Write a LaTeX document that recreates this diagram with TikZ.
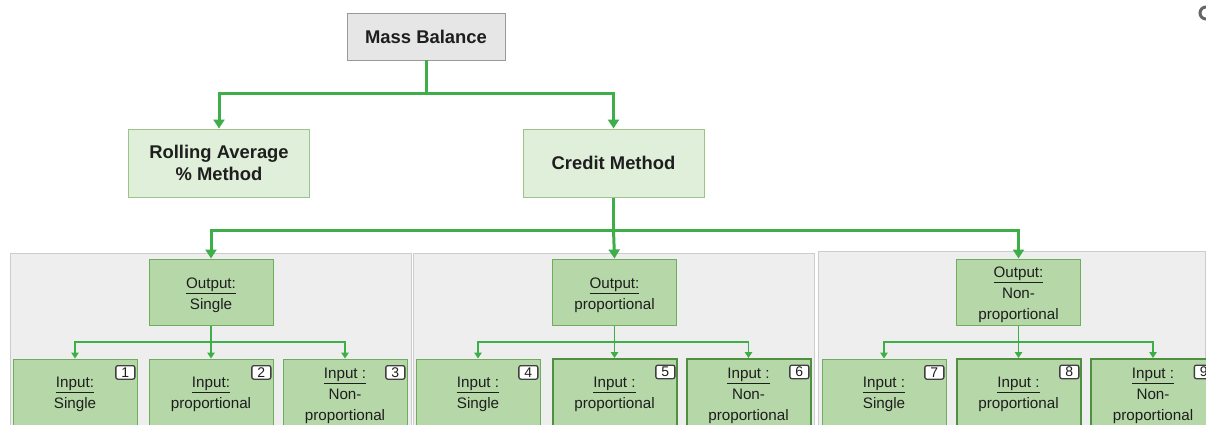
\documentclass[tikz,border=0pt]{standalone}
\usepackage{fontspec}
\setmainfont{Liberation Sans}
\usetikzlibrary{arrows.meta}
\definecolor{linkgreen}{HTML}{3DAE48}
\definecolor{paleboxfill}{HTML}{E0EFD9}
\definecolor{paleboxline}{HTML}{9CC48A}
\definecolor{boxfill}{HTML}{B6D7A8}
\definecolor{boxline}{HTML}{6FAD5E}
\definecolor{boxlinedark}{HTML}{4E8F40}
\definecolor{panelfill}{HTML}{EEEEEE}
\definecolor{panelline}{HTML}{CCCCCC}
\definecolor{rootfill}{HTML}{E6E6E6}
\definecolor{rootline}{HTML}{999999}
\definecolor{inktext}{HTML}{1E1E1E}
% strut that lowers the first line of a box label
\newcommand{\firstline}[1]{\rule{0pt}{#1}}
\tikzset{
  rootbox/.style={draw=rootline, fill=rootfill, line width=0.8pt, text=inktext,
    minimum width=158pt, minimum height=47pt, inner sep=0pt,
    font=\fontsize{18.4}{22}\selectfont\bfseries},
  methodbox/.style={draw=paleboxline, fill=paleboxfill, line width=1pt, text=inktext,
    minimum width=181pt, minimum height=68pt, inner sep=0pt, align=center,
    font=\fontsize{18.4}{22}\selectfont\bfseries},
  outbox/.style={draw=boxline, fill=boxfill, line width=1pt, text=inktext,
    minimum width=124pt, minimum height=66pt, inner sep=0pt, align=center,
    font=\fontsize{15.2}{21}\selectfont},
  inbox/.style={draw=boxline, fill=boxfill, line width=1pt, text=inktext,
    minimum width=124pt, minimum height=68pt, inner sep=0pt, align=center,
    font=\fontsize{15.2}{21}\selectfont},
  inboxbold/.style={inbox, draw=boxlinedark, line width=2pt},
  badge/.style={draw=black!75, fill=white, line width=1.3pt, rounded corners=2pt,
    minimum width=19pt, minimum height=13.5pt, inner sep=0pt, text=inktext,
    font=\fontsize{14}{14}\selectfont, anchor=north east, xshift=-2pt, yshift=-6.5pt},
  panel/.style={draw=panelline, fill=panelfill, line width=1pt},
  bigline/.style={draw=linkgreen, line width=3pt},
  bigarrow/.style={bigline, -{Triangle[length=9pt,width=11pt]}},
  smallline/.style={draw=linkgreen, line width=1.2pt},
  smallarrow/.style={smallline, -{Triangle[length=6pt,width=7.5pt]}},
}
\begin{document}
\begin{tikzpicture}[x=1pt,y=-1pt]
\useasboundingbox (0,0) rectangle (1206,424);
\clip (0,0) rectangle (1206,424);

% grey panels behind the three credit-method branches
\path[panel] (10.5,253.5) rectangle (411,440);
\path[panel] (413.5,253.5) rectangle (814,440);
\path[panel] (818.5,251.5) rectangle (1205.5,440);

% partially visible glyph at the top right
\draw[black!60, line width=3pt] (1206,13) circle[radius=6];

% top levels
\node[rootbox] (mb) at (426,36.5) {Mass Balance};
\node[methodbox] (ra) at (219,163) {Rolling Average\\\% Method};
\node[methodbox] (cm) at (613.5,163) {Credit Method};

\coordinate (mbj) at (426,93);
\coordinate (cmj) at (613.5,230);

% output level
\node[outbox] (o1) at (211,292) {\firstline{17pt}\underline{Output:}\\Single};
\node[outbox] (o2) at (614.5,292) {\firstline{17pt}\underline{Output:}\\proportional};
\node[outbox] (o3) at (1018.5,292) {\firstline{17pt}\underline{Output:}\\Non-\\proportional};

% input level
\node[inbox] (i1) at (75,393) {\firstline{14pt}\underline{Input:}\\Single};
\node[inbox] (i2) at (211,393) {\firstline{14pt}\underline{Input:}\\proportional};
\node[inbox] (i3) at (345,393) {\firstline{16pt}\underline{Input :}\\Non-\\proportional};
\node[inbox] (i4) at (478,393) {\firstline{14pt}\underline{Input :}\\Single};
\node[inboxbold] (i5) at (614.5,393) {\firstline{14pt}\underline{Input :}\\proportional};
\node[inboxbold] (i6) at (748.5,393) {\firstline{16pt}\underline{Input :}\\Non-\\proportional};
\node[inbox] (i7) at (884,393) {\firstline{14pt}\underline{Input :}\\Single};
\node[inboxbold] (i8) at (1018.5,393) {\firstline{14pt}\underline{Input :}\\proportional};
\node[inboxbold] (i9) at (1153,393) {\firstline{16pt}\underline{Input :}\\Non-\\proportional};

% numbered badges
\node[badge] (b1) at (i1.north east) {1};
\node[badge] (b2) at (i2.north east) {2};
\node[badge] (b3) at (i3.north east) {3};
\node[badge] (b4) at (i4.north east) {4};
\node[badge] (b5) at (i5.north east) {5};
\node[badge] (b6) at (i6.north east) {6};
\node[badge] (b7) at (i7.north east) {7};
\node[badge] (b8) at (i8.north east) {8};
\node[badge] (b9) at (i9.north east) {9};

% connectors
\draw[bigline] (mb.south) -- (mbj);
\draw[bigarrow] (mbj) -| (ra.north);
\draw[bigarrow] (mbj) -| (cm.north);

\draw[bigline] (cm.south) -- (cmj);
\draw[bigarrow] (cmj) -| (o1.north);
\draw[bigarrow] (cmj) -- (o2.north);
\draw[bigarrow] (cmj) -| (o3.north);

\coordinate (o1j) at (211,342);
\coordinate (o2j) at (614.5,342);
\coordinate (o3j) at (1018.5,342);
\draw[smallline] (o1.south) -- (o1j);
\draw[smallarrow] (o1j) -| (i1.north);
\draw[smallarrow] (o1j) -- (i2.north);
\draw[smallarrow] (o1j) -| (i3.north);
\draw[smallline] (o2.south) -- (o2j);
\draw[smallarrow] (o2j) -| (i4.north);
\draw[smallarrow] (o2j) -- (i5.north);
\draw[smallarrow] (o2j) -| (i6.north);
\draw[smallline] (o3.south) -- (o3j);
\draw[smallarrow] (o3j) -| (i7.north);
\draw[smallarrow] (o3j) -- (i8.north);
\draw[smallarrow] (o3j) -| (i9.north);
\end{tikzpicture}
\end{document}
